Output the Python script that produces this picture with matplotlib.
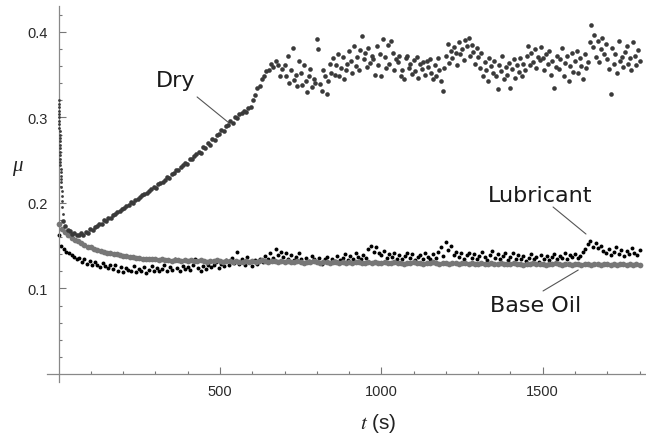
import numpy as np
import matplotlib.pyplot as plt

# friction coefficient mu, stored in thousandths

# Dry: fast drop at the start
dry_early_t = [0, 0.3, 0.6, 0.9, 1.2, 1.5, 1.8, 2.1, 2.4, 2.7, 3.0, 3.3, 3.6, 3.9, 4.2, 4.5,
               4.8, 5.1, 5.4, 5.7, 6.0, 6.5, 7.0, 7.5, 8.0, 8.5, 9.0, 9.5, 10.0, 11.0, 12.0]
dry_early_mu = [320, 316, 312, 308, 304, 300, 296, 292, 288, 284, 280, 276, 272, 268, 264, 260,
                256, 252, 248, 244, 240, 236, 232, 228, 224, 219, 214, 208, 202, 195, 187]

# Dry: rising part, one reading every 7 s from 14 s to 693 s
dry_rise_t = np.arange(14, 694, 7)
dry_rise_mu = [179, 173, 168, 167, 164, 165, 163, 162, 165, 163,
               166, 165, 169, 168, 172, 173, 176, 175, 180, 179,
               183, 182, 186, 187, 189, 191, 193, 194, 196, 198,
               201, 200, 204, 205, 207, 209, 211, 212, 214, 216,
               219, 218, 222, 223, 225, 227, 230, 229, 234, 235,
               239, 238, 242, 244, 247, 246, 251, 252, 255, 257,
               260, 259, 265, 264, 270, 268, 275, 274, 279, 281,
               285, 284, 290, 291, 296, 294, 300, 299, 304, 305,
               308, 306, 311, 312, 320, 326, 335, 337, 345, 348,
               354, 356, 362, 359, 366, 361, 348, 357]

# Dry: scattered plateau, one reading every 5 s from 700 s to 1800 s
dry_plat_t = np.arange(700, 1801, 5)
dry_plat_mu = [361, 348, 372, 340, 355, 381, 344, 350, 337, 366,
               352, 338, 361, 343, 330, 349, 357, 336, 345, 340,
               392, 380, 339, 331, 356, 348, 327, 343, 362, 352,
               369, 350, 361, 374, 349, 358, 371, 345, 356, 362,
               378, 366, 352, 384, 360, 371, 355, 379, 395, 368,
               376, 359, 381, 364, 372, 368, 350, 384, 361, 374,
               349, 392, 371, 358, 385, 362, 390, 376, 355, 368,
               365, 372, 348, 356, 345, 369, 372, 358, 363, 351,
               367, 354, 371, 346, 362, 357, 365, 350, 366, 359,
               368, 352, 345, 361, 349, 370, 356, 343, 331, 358,
               372, 386, 364, 378, 369, 383, 376, 361, 388, 374,
               380, 367, 391, 384, 393, 372, 385, 377, 363, 381,
               371, 358, 376, 349, 365, 355, 343, 369, 360, 352,
               366, 348, 333, 361, 354, 372, 345, 359, 350, 364,
               334, 357, 368, 346, 361, 353, 370, 349, 363, 356,
               372, 384, 361, 376, 365, 380, 358, 371, 367, 383,
               369, 355, 374, 362, 378, 350, 366, 334, 359, 372,
               357, 368, 381, 349, 364, 372, 343, 360, 375, 353,
               366, 378, 352, 370, 360, 345, 374, 358, 365, 388,
               408, 382, 397, 371, 389, 365, 380, 393, 374, 386,
               368, 357, 327, 381, 363, 374, 352, 390, 366, 371,
               359, 377, 384, 362, 369, 355, 388, 372, 361, 379,
               366]

# Base Oil: one reading every 10 s
base_t = np.arange(0, 1801, 10)
base_mu = [176, 170, 166, 162, 159, 157, 155, 153, 151, 149,
           148, 146, 145, 144, 143, 142, 141, 140, 140, 139,
           138, 138, 137, 137, 136, 136, 135, 135, 134, 134,
           134, 133, 134, 133, 133, 132, 133, 133, 132, 133,
           132, 133, 132, 132, 133, 132, 131, 132, 132, 133,
           132, 131, 132, 132, 131, 132, 131, 131, 132, 131,
           132, 131, 132, 133, 132, 131, 132, 132, 131, 132,
           131, 132, 131, 131, 132, 131, 130, 131, 131, 132,
           131, 130, 131, 131, 130, 131, 131, 130, 131, 130,
           131, 130, 131, 131, 130, 130, 131, 130, 131, 130,
           130, 131, 130, 130, 131, 130, 130, 129, 130, 130,
           131, 130, 130, 129, 130, 130, 131, 130, 129, 130,
           130, 129, 130, 130, 129, 130, 130, 129, 130, 129,
           129, 130, 129, 129, 130, 129, 129, 130, 129, 129,
           129, 130, 129, 129, 128, 129, 129, 130, 129, 129,
           129, 128, 129, 129, 130, 129, 128, 129, 129, 128,
           129, 129, 128, 129, 129, 128, 129, 129, 128, 129,
           129, 128, 129, 128, 129, 129, 128, 129, 128, 129,
           128]

# Lubricant: one reading every 8 s
lub_t = np.arange(0, 1801, 8)
lub_mu = [162, 150, 146, 143, 141, 139, 137, 134, 136, 131,
          134, 129, 132, 127, 131, 128, 125, 130, 126, 124,
          127, 123, 128, 121, 125, 119, 124, 122, 120, 126,
          119, 123, 121, 125, 118, 122, 126, 120, 124, 121,
          123, 127, 120, 125, 122, 134, 124, 121, 126, 123,
          125, 122, 127, 135, 124, 121, 126, 123, 128, 125,
          127, 131, 124, 129, 126, 133, 128, 136, 130, 143,
          129, 134, 127, 137, 131, 126, 133, 129, 135, 131,
          138, 134, 141, 136, 146, 139, 143, 137, 141, 135,
          139, 133, 137, 141, 134, 130, 136, 132, 138, 134,
          131, 136, 129, 134, 137, 130, 135, 132, 138, 133,
          136, 140, 133, 138, 135, 142, 137, 134, 139, 136,
          146, 150, 143, 148, 141, 139, 144, 136, 140, 137,
          141, 135, 139, 134, 138, 142, 136, 140, 133, 137,
          139, 135, 141, 137, 134, 140, 136, 143, 148, 138,
          154, 145, 150, 139, 143, 137, 141, 135, 139, 142,
          136, 140, 134, 138, 143, 137, 133, 139, 144, 136,
          140, 135, 138, 142, 133, 137, 141, 135, 139, 134,
          138, 132, 136, 140, 134, 137, 131, 139, 135, 138,
          133, 137, 140, 134, 138, 136, 141, 135, 139, 137,
          140, 136, 138, 143, 146, 152, 155, 149, 153, 147,
          150, 144, 141, 146, 139, 143, 148, 140, 145, 138,
          144, 140, 147, 142, 139, 145]

dry_t = np.concatenate([dry_early_t, dry_rise_t, dry_plat_t])
dry_mu = np.concatenate([dry_early_mu, dry_rise_mu, dry_plat_mu]) / 1000
base_mu = np.array(base_mu) / 1000
lub_mu = np.array(lub_mu) / 1000

fig = plt.figure(figsize=(6.46, 4.39), dpi=100)
ax = fig.add_axes([0.0728, 0.1273, 0.9272, 0.856])

ax.scatter(lub_t, lub_mu, s=8, color='black', linewidths=0, zorder=2)
ax.scatter(base_t, base_mu, s=17, color='#777777', linewidths=0, zorder=3)
ax.scatter(dry_t[:31], dry_mu[:31], s=4, color='#3c3c3c', linewidths=0, zorder=4)
ax.scatter(dry_t[31:], dry_mu[31:], s=11, color='#3a3a3a', linewidths=0, zorder=4)

ax.set_xlim(-36, 1820)
ax.set_ylim(-0.0095, 0.43)

for side in ['top', 'right']:
    ax.spines[side].set_visible(False)
ax.spines['left'].set_position(('data', 0))
ax.spines['bottom'].set_position(('data', 0))
for side in ['left', 'bottom']:
    ax.spines[side].set_color('#888888')
    ax.spines[side].set_linewidth(0.9)

ax.set_xticks([500, 1000, 1500])
ax.set_xticks(np.arange(100, 1801, 100), minor=True)
ax.set_yticks([0.1, 0.2, 0.3, 0.4])
ax.set_yticks(np.arange(0.02, 0.43, 0.02), minor=True)
ax.set_xticklabels(['500', '1000', '1500'])
ax.set_yticklabels(['0.1', '0.2', '0.3', '0.4'])
ax.tick_params(which='both', direction='in', color='#777777', width=0.8)
ax.tick_params(which='major', length=5)
ax.tick_params(which='minor', length=2.5)
ax.tick_params(axis='x', pad=7)
ax.tick_params(axis='y', pad=8)
for lab in ax.get_xticklabels() + ax.get_yticklabels():
    lab.set_fontfamily('Liberation Sans')
    lab.set_fontsize(10.5)
    lab.set_color('#2a2a2a')

plt.rcParams['mathtext.fontset'] = 'stix'
fig.text(0.585, 0.036, r'$t$ (s)', fontsize=15, family='Liberation Sans',
         color='#222222', ha='center', va='center')
fig.text(0.027, 0.62, 'μ', fontsize=15, family='Liberation Serif', style='italic',
         color='#222222', ha='center', va='center')

# labels with leader lines
ax.text(361, 0.337, 'Dry', fontsize=16, ha='center', va='baseline', color='#1a1a1a')
ax.text(1492, 0.2027, 'Lubricant', fontsize=16, ha='center', va='baseline', color='#1a1a1a')
ax.text(1479, 0.074, 'Base Oil', fontsize=16, ha='center', va='baseline', color='#1a1a1a')
lp = dict(arrowstyle='-', color='#555555', lw=0.8, shrinkA=0, shrinkB=0)
ax.annotate('', xy=(528, 0.2936), xytext=(429, 0.324), arrowprops=lp)
ax.annotate('', xy=(1634, 0.1637), xytext=(1532, 0.1953), arrowprops=lp)
ax.annotate('', xy=(1610, 0.1216), xytext=(1501, 0.0971), arrowprops=lp)

fig.savefig('out.png', dpi=100)
